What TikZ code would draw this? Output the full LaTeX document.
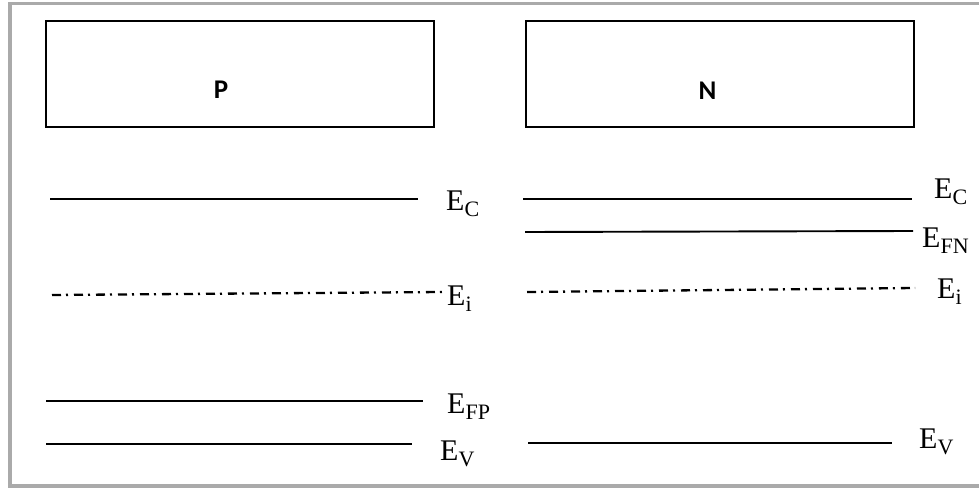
\documentclass[tikz,border=0pt]{standalone}
\usepackage{fontspec}
\setmainfont{Liberation Serif}
\newfontfamily\regionfont{Carlito Bold}

% energy-level label: E with an upright subscript
\newcommand{\Elevel}[1]{E\raisebox{-6pt}{\fontsize{22}{22}\selectfont #1}}
\newcommand{\regionname}[1]{{\regionfont\fontsize{27}{30}\selectfont #1}}

\definecolor{framegray}{RGB}{170,170,170}

\begin{document}
\begin{tikzpicture}[x=1pt, y=-1pt,
  region/.style={draw, line width=2pt, inner sep=0pt, minimum width=388pt, minimum height=106pt},
  regiontext/.style={inner sep=0pt},
  level/.style={line width=1.9pt},
  midlevel/.style={line width=2.3pt, dash pattern=on 9pt off 5pt on 2pt off 6pt},
  levellabel/.style={anchor=base west, inner sep=0pt, font=\fontsize{30}{34}\selectfont}]

\useasboundingbox (0,0) rectangle (979,489);

% outer frame (open on the right)
\draw[framegray, line width=3.5pt] (979,3.5) -- (10,3.5) -- (10,486) -- (979,486);

% the two regions
\node[region] (pbox) at (240,74) {};
\node[region] (nbox) at (719.5,74) {};
\node[regiontext, anchor=base] (ptext) at (221,99) {\regionname{P}};
\node[regiontext, anchor=base] (ntext) at (707.5,100) {\regionname{N}};

% P side levels
\coordinate (pc1) at (50,199);   \coordinate (pc2) at (418,199);
\coordinate (pi1) at (52,295);   \coordinate (pi2) at (442,292);
\coordinate (pf1) at (46,401);   \coordinate (pf2) at (423,401);
\coordinate (pv1) at (46,444);   \coordinate (pv2) at (412,444);
\draw[level] (pc1) -- (pc2);
\draw[midlevel] (pi1) -- (pi2);
\draw[level] (pf1) -- (pf2);
\draw[level] (pv1) -- (pv2);

% N side levels
\coordinate (nc1) at (523,199);  \coordinate (nc2) at (912,199);
\coordinate (nf1) at (525,232);  \coordinate (nf2) at (913,231);
\coordinate (ni1) at (527,292);  \coordinate (ni2) at (915,288);
\coordinate (nv1) at (528,443);  \coordinate (nv2) at (892,443);
\draw[level] (nc1) -- (nc2);
\draw[level] (nf1) -- (nf2);
\draw[midlevel] (ni1) -- (ni2);
\draw[level] (nv1) -- (nv2);

% labels
\node[levellabel] (pEC) at (446,210.5) {\Elevel{C}};
\node[levellabel] (pEi) at (447,305) {\Elevel{i}};
\node[levellabel] (pEFP) at (447,413) {\Elevel{FP}};
\node[levellabel] (pEV) at (440,460) {\Elevel{V}};
\node[levellabel] (nEC) at (934,198) {\Elevel{C}};
\node[levellabel] (nEFN) at (922,247) {\Elevel{FN}};
\node[levellabel] (nEi) at (937,298) {\Elevel{i}};
\node[levellabel] (nEV) at (919,448) {\Elevel{V}};
\end{tikzpicture}
\end{document}
